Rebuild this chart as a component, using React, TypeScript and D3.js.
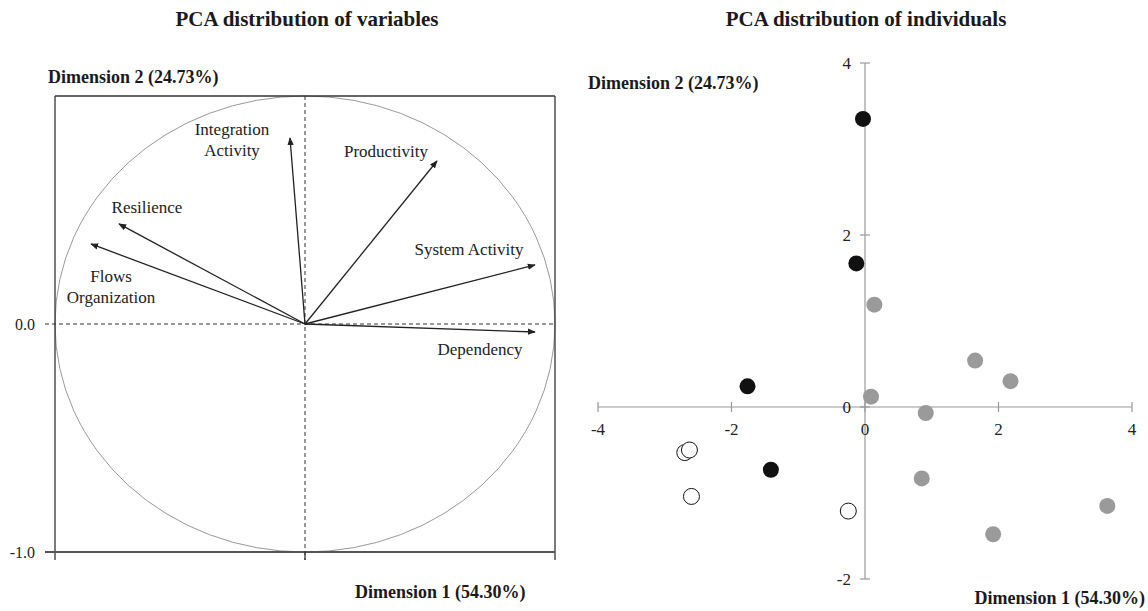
import React from "react";
import * as d3 from "d3";

// Variables (correlation circle)
const varNames = ["Integration Activity", "Productivity", "Resilience", "Flows Organization", "System Activity", "Dependency"];
const varDim1 = [-0.06, 0.528, -0.744, -0.856, 0.92, 0.92];
const varDim2 = [0.816, 0.715, 0.439, 0.351, 0.259, -0.035];
const varLabelLines = [["Integration", "Activity"], ["Productivity"], ["Resilience"], ["Flows", "Organization"], ["System Activity"], ["Dependency"]];

// Individuals
const indGroup = ["black", "black", "black", "black", "gray", "gray", "gray", "gray", "gray", "gray", "gray", "gray", "open", "open", "open", "open"];
const indDim1 = [-0.03, -0.13, -1.76, -1.41, 0.14, 0.09, 1.65, 2.18, 0.91, 0.85, 3.63, 1.92, -2.70, -2.63, -2.60, -0.25];
const indDim2 = [3.35, 1.67, 0.24, -0.73, 1.19, 0.12, 0.54, 0.30, -0.07, -0.83, -1.15, -1.48, -0.53, -0.50, -1.04, -1.21];

const leftTicks = ["0.0", "-1.0"];
const leftTickValues = [0, -1];
const rightXTicks = [-4, -2, 0, 2, 4];
const rightYTicks = [4, 2, 0, -2];

const dim1Label = "Dimension 1 (54.30%)";
const dim2Label = "Dimension 2 (24.73%)";

// label placement offsets (px) from arrow tip: [dx, dy of first baseline]
const labelOffsets: [number, number][] = [[-58, -3], [-51, -4], [28, -11], [20, 38], [-66, -10], [-55, 23]];

const FONT = "'Liberation Serif', 'Times New Roman', serif";

export default function App() {
  const xL = d3.scaleLinear().domain([-1, 1]).range([55, 555]);
  const yL = d3.scaleLinear().domain([-1, 1]).range([552, 96]);
  const xR = d3.scaleLinear().domain([-4, 4]).range([598, 1132]);
  const yR = d3.scaleLinear().domain([-2, 4]).range([579, 63]);

  const cx = xL(0), cy = yL(0);
  const rx = xL(1) - xL(0), ry = yL(-1) - yL(0);

  const fillFor = (g: string) => (g === "black" ? "#111" : g === "gray" ? "#9a9a9a" : "#fff");

  return (
    <svg width={1148} height={611} style={{ position: "absolute", left: 0, top: 0, background: "#fff" }} fontFamily={FONT}>
      <defs>
        <marker id="arr" viewBox="0 0 10 10" refX="9" refY="5" markerWidth="8" markerHeight="8" markerUnits="userSpaceOnUse" orient="auto">
          <path d="M0,1 L10,5 L0,9 Z" fill="#222" />
        </marker>
      </defs>
      <rect x={0} y={0} width={1148} height={611} fill="#fff" />

      {/* Left panel */}
      <text x={307} y={26} textAnchor="middle" fontWeight="bold" fontSize={21} fill="#1a1a1a">PCA distribution of variables</text>
      <text x={48} y={83} fontWeight="bold" fontSize={18} fill="#1a1a1a">{dim2Label}</text>
      <text x={355} y={598} fontWeight="bold" fontSize={18} fill="#1a1a1a">{dim1Label}</text>

      <ellipse cx={cx} cy={cy} rx={rx} ry={ry} fill="none" stroke="#999" strokeWidth={1} />
      {/* frame */}
      <line x1={xL(-1)} y1={yL(1)} x2={xL(1)} y2={yL(1)} stroke="#333" strokeWidth={1.3} />
      <line x1={xL(-1)} y1={yL(1)} x2={xL(-1)} y2={yL(-1) + 8} stroke="#333" strokeWidth={1.3} />
      <line x1={xL(1)} y1={yL(1)} x2={xL(1)} y2={yL(-1) + 8} stroke="#333" strokeWidth={1.3} />
      <line x1={xL(-1) - 10} y1={yL(-1)} x2={xL(1)} y2={yL(-1)} stroke="#555" strokeWidth={2} />
      <line x1={cx} y1={yL(-1)} x2={cx} y2={yL(-1) + 8} stroke="#333" strokeWidth={1.3} />
      <line x1={xL(-1) - 10} y1={cy} x2={xL(1)} y2={cy} stroke="#333" strokeWidth={1} strokeDasharray="4,3" />
      <line x1={cx} y1={yL(1)} x2={cx} y2={yL(-1) + 8} stroke="#333" strokeWidth={1} strokeDasharray="4,3" />
      {leftTicks.map((t, i) => (
        <text key={t} x={xL(-1) - 20} y={yL(leftTickValues[i]) + 6} textAnchor="end" fontSize={16} fill="#222">{t}</text>
      ))}

      {varNames.map((n, i) => {
        const tx = xL(varDim1[i]), ty = yL(varDim2[i]);
        const [dx, dy] = labelOffsets[i];
        return (
          <g key={n}>
            <line x1={cx} y1={cy} x2={tx} y2={ty} stroke="#222" strokeWidth={1.3} markerEnd="url(#arr)" />
            <text textAnchor="middle" fontSize={17} fill="#222">
              {varLabelLines[i].map((l, j) => (
                <tspan key={j} x={tx + dx} y={ty + dy + j * 21}>{l}</tspan>
              ))}
            </text>
          </g>
        );
      })}

      {/* Right panel */}
      <text x={866} y={26} textAnchor="middle" fontWeight="bold" fontSize={21} fill="#1a1a1a">PCA distribution of individuals</text>
      <text x={588} y={89} fontWeight="bold" fontSize={18} fill="#1a1a1a">{dim2Label}</text>
      <text x={1145} y={604} textAnchor="end" fontWeight="bold" fontSize={18} fill="#1a1a1a">{dim1Label}</text>

      <line x1={xR(-4)} y1={yR(0)} x2={xR(4)} y2={yR(0)} stroke="#999" strokeWidth={1.2} />
      <line x1={xR(0)} y1={yR(4)} x2={xR(0)} y2={yR(-2)} stroke="#999" strokeWidth={1.2} />
      {rightXTicks.map((t) => (
        <g key={"x" + t}>
          <line x1={xR(t)} y1={yR(0) - 5} x2={xR(t)} y2={yR(0) + 5} stroke="#999" strokeWidth={1.2} />
          <text x={xR(t)} y={yR(0) + 28} textAnchor="middle" fontSize={17} fill="#222">{String(t)}</text>
        </g>
      ))}
      {rightYTicks.map((t) => (
        <g key={"y" + t}>
          <line x1={xR(0) - 5} y1={yR(t)} x2={xR(0) + 5} y2={yR(t)} stroke="#999" strokeWidth={1.2} />
          <text x={xR(0) - 14} y={yR(t) + 6} textAnchor="end" fontSize={17} fill="#222">{String(t)}</text>
        </g>
      ))}

      {indDim1.map((v, i) => (
        <circle key={i} cx={xR(v)} cy={yR(indDim2[i])} r={8}
          fill={fillFor(indGroup[i])}
          stroke={indGroup[i] === "open" ? "#111" : "none"} strokeWidth={1} />
      ))}
    </svg>
  );
}
